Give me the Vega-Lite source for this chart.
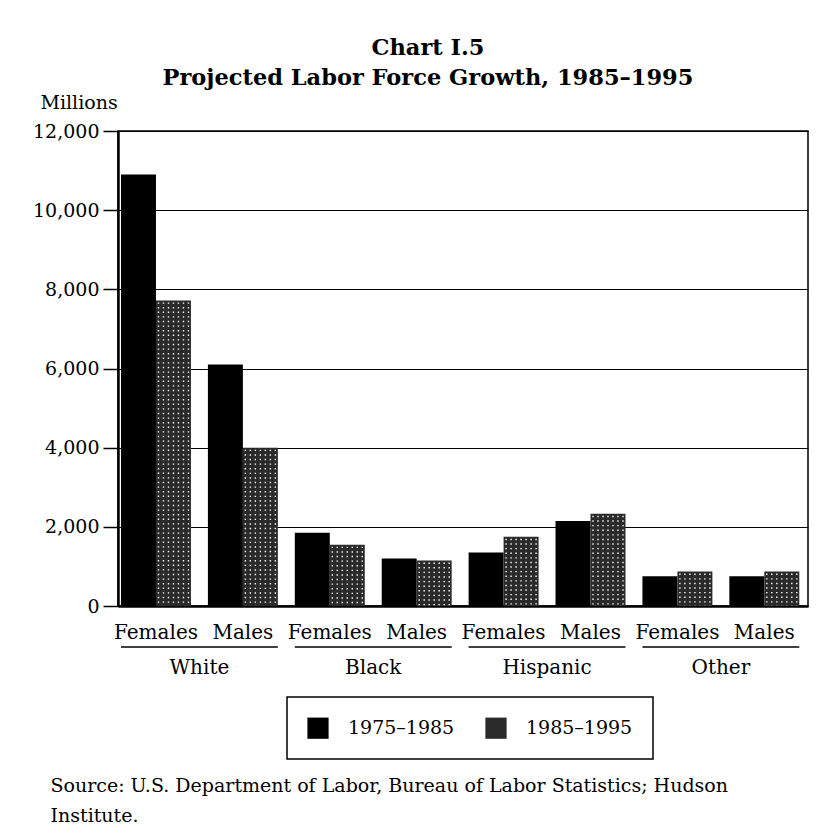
{
  "$schema": "https://vega.github.io/schema/vega-lite/v6.json",
  "width": 690,
  "height": 475,
  "autosize": {"type": "none"},
  "padding": {"left": 118, "top": 131, "right": 22, "bottom": 231},
  "background": "white",
  "config": {
    "font": "DejaVu Serif",
    "view": {"stroke": "black", "strokeWidth": 1.5},
    "legend": {
      "orient": "none",
      "legendX": 169,
      "legendY": 566,
      "direction": "horizontal",
      "padding": 20,
      "strokeColor": "black",
      "strokeWidth": 1.5,
      "symbolType": "square",
      "symbolSize": 450,
      "symbolStrokeWidth": 0,
      "labelFont": "DejaVu Serif",
      "labelFontSize": 19,
      "labelColor": "black",
      "labelOffset": 19,
      "columnPadding": 30
    }
  },
  "title": {
    "text": ["Chart I.5", "Projected Labor Force Growth, 1985–1995"],
    "font": "DejaVu Serif",
    "fontSize": 22.5,
    "fontWeight": "bold",
    "color": "black",
    "anchor": "middle",
    "frame": "group",
    "dx": -35,
    "lineHeight": 30,
    "offset": 4
  },
  "data": {
    "values": [
      {"race": "White", "sex": "Females", "group": "White Females", "period": "1975–1985", "value": 10900},
      {"race": "White", "sex": "Females", "group": "White Females", "period": "1985–1995", "value": 7720},
      {"race": "White", "sex": "Males", "group": "White Males", "period": "1975–1985", "value": 6100},
      {"race": "White", "sex": "Males", "group": "White Males", "period": "1985–1995", "value": 4000},
      {"race": "Black", "sex": "Females", "group": "Black Females", "period": "1975–1985", "value": 1850},
      {"race": "Black", "sex": "Females", "group": "Black Females", "period": "1985–1995", "value": 1550},
      {"race": "Black", "sex": "Males", "group": "Black Males", "period": "1975–1985", "value": 1200},
      {"race": "Black", "sex": "Males", "group": "Black Males", "period": "1985–1995", "value": 1150},
      {"race": "Hispanic", "sex": "Females", "group": "Hispanic Females", "period": "1975–1985", "value": 1350},
      {"race": "Hispanic", "sex": "Females", "group": "Hispanic Females", "period": "1985–1995", "value": 1750},
      {"race": "Hispanic", "sex": "Males", "group": "Hispanic Males", "period": "1975–1985", "value": 2150},
      {"race": "Hispanic", "sex": "Males", "group": "Hispanic Males", "period": "1985–1995", "value": 2330},
      {"race": "Other", "sex": "Females", "group": "Other Females", "period": "1975–1985", "value": 750},
      {"race": "Other", "sex": "Females", "group": "Other Females", "period": "1985–1995", "value": 870},
      {"race": "Other", "sex": "Males", "group": "Other Males", "period": "1975–1985", "value": 750},
      {"race": "Other", "sex": "Males", "group": "Other Males", "period": "1985–1995", "value": 870}
    ]
  },
  "resolve": {"scale": {"x": "independent"}, "axis": {"x": "independent"}},
  "layer": [
    {
      "encoding": {
        "y": {
          "field": "value",
          "type": "quantitative",
          "title": "Millions",
          "scale": {"domain": [0, 12000], "nice": false},
          "axis": {
            "titleAngle": 0,
            "titleAlign": "left",
            "titleBaseline": "alphabetic",
            "titleX": -78,
            "titleY": -23,
            "titleFont": "DejaVu Serif",
            "titleFontSize": 19,
            "titleFontWeight": "normal",
            "titleColor": "black",
            "values": [0, 2000, 4000, 6000, 8000, 10000, 12000],
            "format": ",.0f",
            "labelFont": "DejaVu Serif",
            "labelFontSize": 19,
            "labelColor": "black",
            "labelPadding": 4,
            "tickSize": 15,
            "tickColor": "black",
            "tickWidth": 1.5,
            "domainColor": "black",
            "domainWidth": 2.5,
            "grid": true,
            "gridColor": "black",
            "gridWidth": 1.2,
            "gridOpacity": 1
          }
        }
      },
      "layer": [
        {
          "mark": {"type": "bar"},
          "encoding": {
            "x": {
              "field": "group",
              "type": "nominal",
              "title": null,
              "sort": ["White Females", "White Males", "Black Females", "Black Males", "Hispanic Females", "Hispanic Males", "Other Females", "Other Males"],
              "scale": {"paddingInner": 0.195, "paddingOuter": 0.0673, "align": 0.256},
              "axis": {
                "orient": "bottom",
                "labelExpr": "split(datum.label, ' ')[1]",
                "labelFont": "DejaVu Serif",
                "labelFontSize": 20,
                "labelColor": "black",
                "labelAngle": 0,
                "labelBaseline": "alphabetic",
                "labelPadding": 32,
                "ticks": false,
                "tickSize": 0,
                "domain": true,
                "domainColor": "black",
                "domainWidth": 2.5,
                "grid": false
              }
            },
            "xOffset": {
              "field": "period",
              "type": "nominal",
              "scale": {"paddingInner": 0, "paddingOuter": 0}
            },
            "fill": {
              "field": "period",
              "type": "nominal",
              "scale": {"domain": ["1975–1985", "1985–1995"], "range": ["#000000", "#2a2a2a"]},
              "legend": {"title": null}
            }
          }
        },
        {
          "transform": [{"filter": "datum.period === '1985–1995'"}],
          "mark": {"type": "rule", "stroke": "white", "strokeWidth": 1.4, "strokeDash": [1.4, 3.2], "strokeDashOffset": -2, "xOffset": -15},
          "encoding": {"x": {"field": "group", "type": "nominal", "bandPosition": 0.75, "title": null, "sort": ["White Females", "White Males", "Black Females", "Black Males", "Hispanic Females", "Hispanic Males", "Other Females", "Other Males"]}, "y2": {"datum": 0}}
        },
        {
          "transform": [{"filter": "datum.period === '1985–1995'"}],
          "mark": {"type": "rule", "stroke": "white", "strokeWidth": 1.4, "strokeDash": [1.4, 3.2], "strokeDashOffset": -2, "xOffset": -10},
          "encoding": {"x": {"field": "group", "type": "nominal", "bandPosition": 0.75, "title": null, "sort": ["White Females", "White Males", "Black Females", "Black Males", "Hispanic Females", "Hispanic Males", "Other Females", "Other Males"]}, "y2": {"datum": 0}}
        },
        {
          "transform": [{"filter": "datum.period === '1985–1995'"}],
          "mark": {"type": "rule", "stroke": "white", "strokeWidth": 1.4, "strokeDash": [1.4, 3.2], "strokeDashOffset": -2, "xOffset": -5},
          "encoding": {"x": {"field": "group", "type": "nominal", "bandPosition": 0.75, "title": null, "sort": ["White Females", "White Males", "Black Females", "Black Males", "Hispanic Females", "Hispanic Males", "Other Females", "Other Males"]}, "y2": {"datum": 0}}
        },
        {
          "transform": [{"filter": "datum.period === '1985–1995'"}],
          "mark": {"type": "rule", "stroke": "white", "strokeWidth": 1.4, "strokeDash": [1.4, 3.2], "strokeDashOffset": -2, "xOffset": 0},
          "encoding": {"x": {"field": "group", "type": "nominal", "bandPosition": 0.75, "title": null, "sort": ["White Females", "White Males", "Black Females", "Black Males", "Hispanic Females", "Hispanic Males", "Other Females", "Other Males"]}, "y2": {"datum": 0}}
        },
        {
          "transform": [{"filter": "datum.period === '1985–1995'"}],
          "mark": {"type": "rule", "stroke": "white", "strokeWidth": 1.4, "strokeDash": [1.4, 3.2], "strokeDashOffset": -2, "xOffset": 5},
          "encoding": {"x": {"field": "group", "type": "nominal", "bandPosition": 0.75, "title": null, "sort": ["White Females", "White Males", "Black Females", "Black Males", "Hispanic Females", "Hispanic Males", "Other Females", "Other Males"]}, "y2": {"datum": 0}}
        },
        {
          "transform": [{"filter": "datum.period === '1985–1995'"}],
          "mark": {"type": "rule", "stroke": "white", "strokeWidth": 1.4, "strokeDash": [1.4, 3.2], "strokeDashOffset": -2, "xOffset": 10},
          "encoding": {"x": {"field": "group", "type": "nominal", "bandPosition": 0.75, "title": null, "sort": ["White Females", "White Males", "Black Females", "Black Males", "Hispanic Females", "Hispanic Males", "Other Females", "Other Males"]}, "y2": {"datum": 0}}
        },
        {
          "transform": [{"filter": "datum.period === '1985–1995'"}],
          "mark": {"type": "rule", "stroke": "white", "strokeWidth": 1.4, "strokeDash": [1.4, 3.2], "strokeDashOffset": -2, "xOffset": 15},
          "encoding": {"x": {"field": "group", "type": "nominal", "bandPosition": 0.75, "title": null, "sort": ["White Females", "White Males", "Black Females", "Black Males", "Hispanic Females", "Hispanic Males", "Other Females", "Other Males"]}, "y2": {"datum": 0}}
        }
      ]
    },
    {
      "transform": [{"filter": "datum.sex === 'Females' && datum.period === '1975–1985'"}],
      "mark": {"type": "bar", "color": "black"},
      "encoding": {
        "x": {
          "field": "race",
          "type": "nominal",
          "sort": ["White", "Black", "Hispanic", "Other"],
          "scale": {"paddingInner": 0.0975, "paddingOuter": 0.03365, "align": 0.256},
          "axis": {
            "orient": "bottom",
            "title": ["Source: U.S. Department of Labor, Bureau of Labor Statistics; Hudson", "Institute."],
            "titleFont": "DejaVu Serif",
            "titleFontSize": 19,
            "titleFontWeight": "normal",
            "titleColor": "black",
            "titleAnchor": "start",
            "titleAlign": "left",
            "titleBaseline": "alphabetic",
            "titleX": -68,
            "titleY": 185,
            "titleLineHeight": 30,
            "labelFont": "DejaVu Serif",
            "labelFontSize": 20,
            "labelColor": "black",
            "labelAngle": 0,
            "labelBaseline": "alphabetic",
            "labelPadding": 67,
            "ticks": false,
            "tickSize": 0,
            "domain": false,
            "grid": false
          }
        },
        "y": {"datum": -1017},
        "y2": {"datum": -1055}
      }
    }
  ]
}
